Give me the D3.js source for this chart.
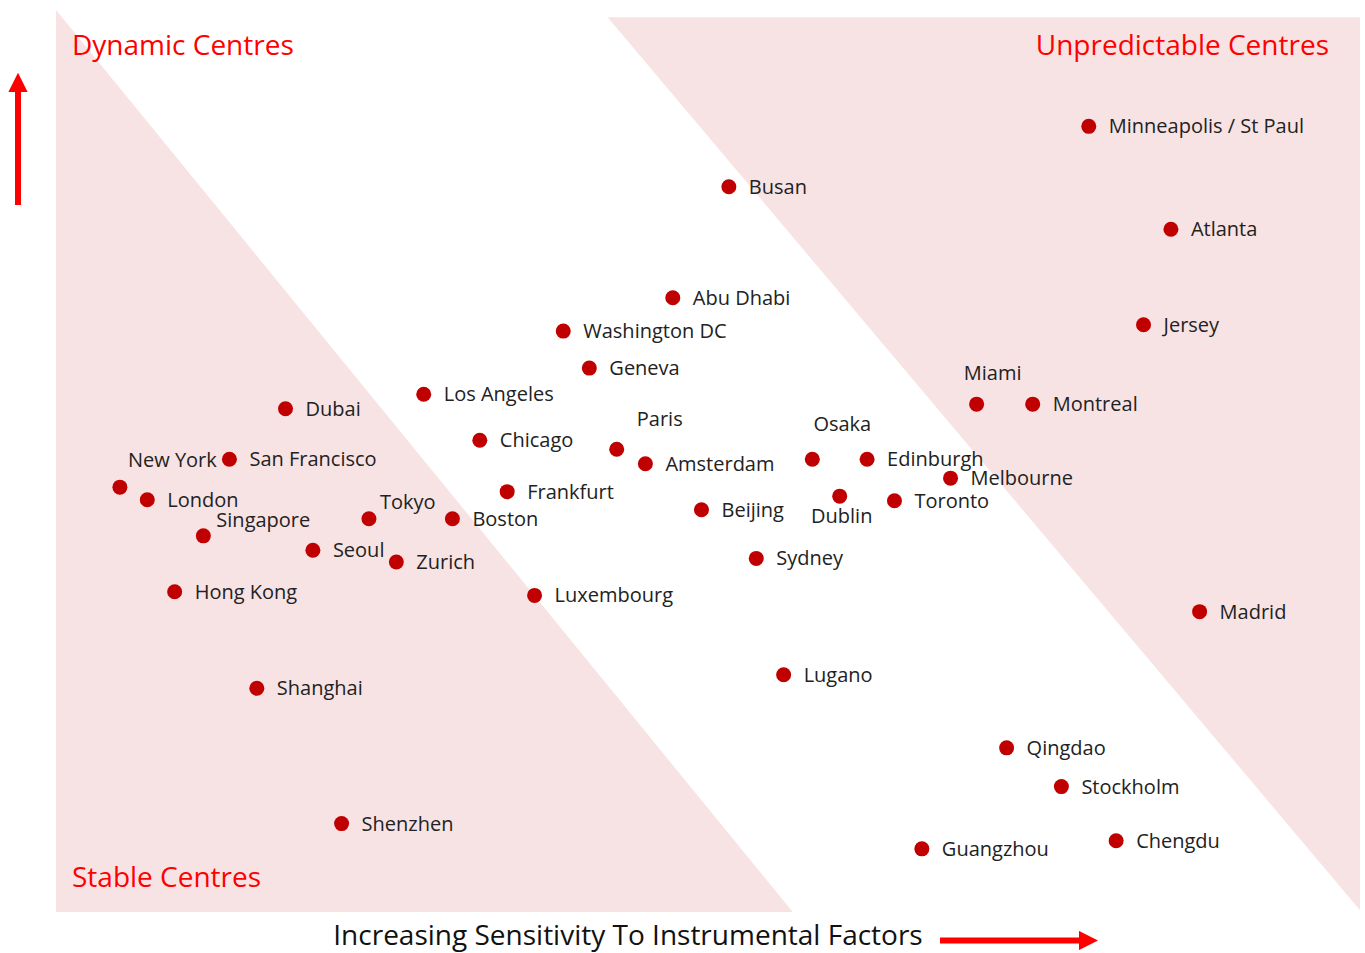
<!DOCTYPE html>
<html>
<head>
<meta charset="utf-8">
<script src="https://cdn.jsdelivr.net/npm/d3@7"></script>
<style>
body { margin: 0; background: #fff; }
svg text { font-family: "Open Sans", "Noto Sans", sans-serif; }
</style>
</head>
<body>
<div id="chart"></div>
<script>
// centres (0-100 on both axes)
var cities = ["Minneapolis / St Paul", "Busan", "Atlanta", "Abu Dhabi", "Washington DC", "Jersey",
  "Geneva", "Los Angeles", "Dubai", "Miami", "Montreal", "Chicago", "Paris", "Amsterdam", "Osaka",
  "Edinburgh", "San Francisco", "Melbourne", "New York", "London", "Frankfurt", "Tokyo", "Boston",
  "Beijing", "Dublin", "Toronto", "Singapore", "Seoul", "Zurich", "Sydney", "Hong Kong",
  "Luxembourg", "Madrid", "Lugano", "Shanghai", "Qingdao", "Stockholm", "Shenzhen", "Guangzhou", "Chengdu"];
var sensitivity = [79.2, 51.6, 85.5, 47.3, 38.9, 83.4,
  40.9, 28.2, 17.6, 70.6, 74.9, 32.5, 43.0, 45.2, 58.0,
  62.2, 13.3, 68.6, 4.9, 7.0, 34.6, 24.0, 30.4,
  49.5, 60.1, 64.3, 11.3, 19.7, 26.1, 53.7, 9.1,
  36.7, 87.7, 55.8, 15.4, 72.9, 77.1, 21.9, 66.4, 81.3];
var dynamism = [87.1, 80.4, 75.7, 68.1, 64.4, 65.1,
  60.3, 57.4, 55.8, 56.3, 56.3, 52.3, 51.3, 49.7, 50.2,
  50.2, 50.2, 48.1, 47.1, 45.7, 46.6, 43.6, 43.6,
  44.6, 46.1, 45.6, 41.7, 40.1, 38.8, 39.2, 35.5,
  35.1, 33.3, 26.3, 24.8, 18.2, 13.9, 9.8, 7.0, 7.9];

// zone outlines in the same units
var stableZone = [[0, 100], [0, 0], [56.5, 0]];
var unpredictableZone = [[42.3, 99.2], [100, 99.2], [100, 0.2]];

// labels that don't sit to the right of the dot
var labelPos = {
  "Miami": {dx: 16, dy: -31, anchor: "middle"},
  "Paris": {dx: 43, dy: -30, anchor: "middle"},
  "Osaka": {dx: 30, dy: -35, anchor: "middle"},
  "New York": {dx: 8, dy: -27, anchor: "start"},
  "Tokyo": {dx: 11, dy: -17, anchor: "start"},
  "Dublin": {dx: 2, dy: 20, anchor: "middle"},
  "Singapore": {dx: 13, dy: -16, anchor: "start"}
};

var width = 1365, height = 953;
var svg = d3.select("#chart").append("svg")
  .attr("width", width)
  .attr("height", height);

var x = d3.scaleLinear().domain([0, 100]).range([56, 1360]);
var y = d3.scaleLinear().domain([0, 100]).range([912, 10]);

var line = d3.line().x(function (d) { return x(d[0]); }).y(function (d) { return y(d[1]); });

svg.append("path").attr("d", line(stableZone) + "Z").attr("fill", "#f8e3e4");
svg.append("path").attr("d", line(unpredictableZone) + "Z").attr("fill", "#f8e3e4");

// quadrant titles
svg.append("text").attr("x", 72).attr("y", 55).attr("fill", "#ff0000")
  .attr("font-size", 28).text("Dynamic Centres");
svg.append("text").attr("x", 1329).attr("y", 55).attr("fill", "#ff0000")
  .attr("text-anchor", "end").attr("font-size", 28).text("Unpredictable Centres");
svg.append("text").attr("x", 72).attr("y", 887).attr("fill", "#ff0000")
  .attr("font-size", 28).text("Stable Centres");

// axis label + arrows
svg.append("text").attr("x", 628).attr("y", 945).attr("text-anchor", "middle")
  .attr("fill", "#111").attr("font-size", 28).text("Increasing Sensitivity To Instrumental Factors");

var defs = svg.append("defs");
defs.append("marker")
  .attr("id", "head")
  .attr("viewBox", "0 -5 10 10")
  .attr("refX", 0).attr("refY", 0)
  .attr("markerWidth", 3.2).attr("markerHeight", 3.2)
  .attr("markerUnits", "strokeWidth")
  .attr("orient", "auto")
  .append("path").attr("d", "M0,-5L10,0L0,5Z").attr("fill", "#ff0000");

svg.append("line").attr("x1", 940).attr("y1", 940.5).attr("x2", 1079).attr("y2", 940.5)
  .attr("stroke", "#ff0000").attr("stroke-width", 6).attr("marker-end", "url(#head)");
svg.append("line").attr("x1", 18).attr("y1", 205).attr("x2", 18).attr("y2", 92)
  .attr("stroke", "#ff0000").attr("stroke-width", 6).attr("marker-end", "url(#head)");

var data = cities.map(function (c, i) {
  return {name: c, sx: sensitivity[i], dy: dynamism[i]};
});

var pt = svg.append("g").selectAll("g")
  .data(data)
  .enter()
  .append("g")
  .attr("transform", function (d) { return "translate(" + x(d.sx) + "," + y(d.dy) + ")"; });

pt.append("circle")
  .attr("r", 7.5)
  .attr("fill", "#c00000");

pt.append("text")
  .attr("x", function (d) { return labelPos[d.name] ? labelPos[d.name].dx : 20; })
  .attr("y", function (d) { return labelPos[d.name] ? labelPos[d.name].dy : 0; })
  .attr("dy", "0.35em")
  .attr("text-anchor", function (d) { return labelPos[d.name] ? labelPos[d.name].anchor : "start"; })
  .attr("fill", "#222")
  .attr("font-size", 20)
  .text(function (d) { return d.name; });
</script>
</body>
</html>
